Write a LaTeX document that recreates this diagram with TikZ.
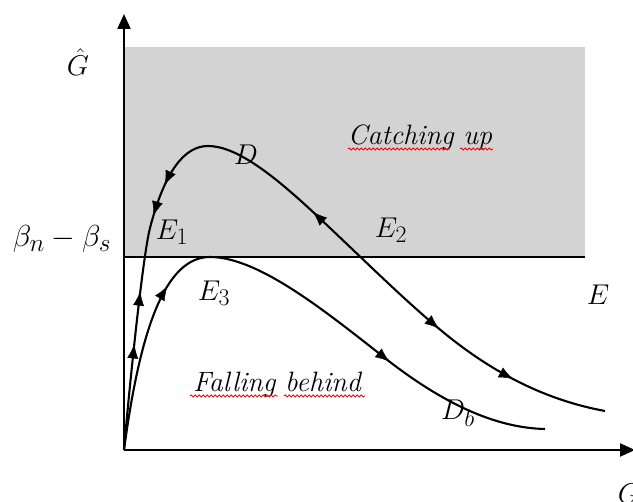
\documentclass[tikz,border=0pt]{standalone}
\usepackage{graphicx}
\usetikzlibrary{arrows.meta,decorations.markings,decorations.pathmorphing}
\definecolor{regiongrey}{RGB}{211,211,211}
\newcommand{\mlab}[2][1.15]{\scalebox{#1}{$#2$}}
\begin{document}
\begin{tikzpicture}[x=1pt,y=-1pt,
  axis/.style={line width=2.2pt,-{Triangle[length=15pt,width=13pt]}},
  curve/.style={line width=2.1pt},
  fw/.style={postaction={decorate},decoration={markings,mark=at position #1 with {\arrow{Latex[length=14pt,width=11pt]}}}},
  bw/.style={postaction={decorate},decoration={markings,mark=at position #1 with {\arrowreversed{Latex[length=14pt,width=11pt]}}}},
  lab/.style={font=\fontsize{24.88}{30}\selectfont},
  squig/.style={red,line width=0.8pt,decorate,decoration={snake,amplitude=1.1pt,segment length=4pt}}]
\useasboundingbox (0,0) rectangle (633,502);
\fill[regiongrey] (124,47) rectangle (585,257);
\coordinate (O) at (124,450);
\coordinate (Ytop) at (124,14);
\coordinate (Xend) at (635,450);
\coordinate (Lleft) at (124,257);
\coordinate (Lright) at (585,257);
\draw[line width=2pt] (Lleft) -- (Lright);
% upper curve D
\def\upper{(124,450) .. controls (130,380) and (143,255) .. (150,228)
  .. controls (165,170) and (185,146) .. (208,146)
  .. controls (235,146) and (270,172) .. (313,212)
  .. controls (360,256) and (400,296) .. (437,327)
  .. controls (490,372) and (545,400) .. (605,411)}
\draw[curve] \upper;
\path[fw=0.13] \upper;
\path[fw=0.195] \upper;
\path[bw=0.29] \upper;
\path[bw=0.33] \upper;
\path[bw=0.56] \upper;
\path[fw=0.77] \upper;
\path[fw=0.88] \upper;
% lower curve Db
\def\lower{(124,450) .. controls (140,330) and (165,257) .. (210,257)
  .. controls (260,257) and (330,315) .. (390,362)
  .. controls (450,408) and (500,428) .. (545,429)}
\draw[curve] \lower;
\path[fw=0.28] \lower;
\path[fw=0.716] \lower;
% axes
\draw[axis] (O) -- (Ytop);
\draw[axis] (O) -- (Xend);
% labels
\node[lab] (ghat) at (78,62) {\mlab{\hat{G}}};
\node[lab] (beta) at (62,239) {\mlab[1.22]{\beta_n-\beta_s}};
\node[lab] (e1) at (172,232) {\mlab{E_1}};
\node[lab] (d) at (246,155) {\mlab{D}};
\node[lab] (e2) at (391,230) {\mlab{E_2}};
\node[lab] (e3) at (214,293) {\mlab{E_3}};
\node[lab] (e) at (598,295) {\mlab{E}};
\node[lab] (db) at (458,413) {\mlab{D_b}};
\node[lab] (g) at (629,494) {\mlab{G}};
\node[font=\fontsize{28}{32}\selectfont,anchor=base] (catch) at (420,145) {\itshape Catching up};
\node[font=\fontsize{28}{32}\selectfont,anchor=base] (fall) at (277,392) {\itshape Falling behind};
\draw[squig] (348,149) -- (450,149);
\draw[squig] (460,149) -- (493,149);
\draw[squig] (190,396) -- (278,396);
\draw[squig] (284,396) -- (365,396);
\end{tikzpicture}
\end{document}
